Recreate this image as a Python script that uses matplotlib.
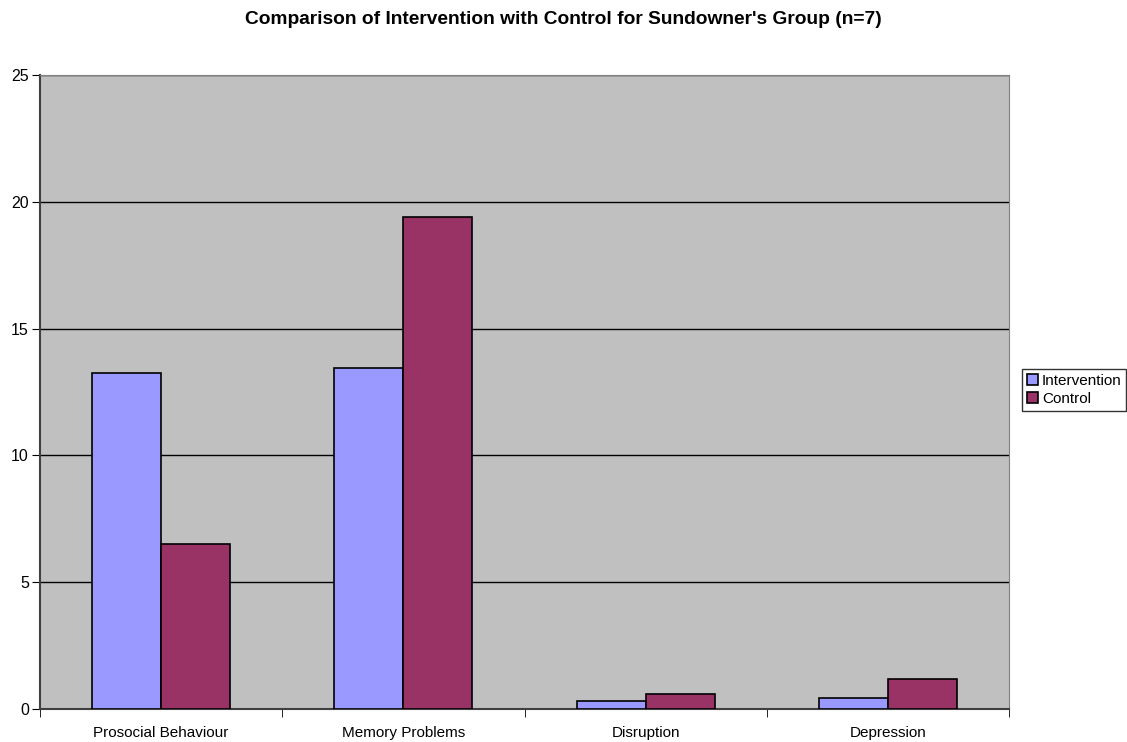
import numpy as np
import matplotlib.pyplot as plt
from matplotlib.ticker import FixedLocator, NullFormatter

plt.rcParams['font.family'] = ['Liberation Sans', 'DejaVu Sans']

categories = ['Prosocial Behaviour', 'Memory Problems', 'Disruption', 'Depression']
intervention = [13.25, 13.45, 0.3, 0.45]
control = [6.5, 19.4, 0.6, 1.2]

fig = plt.figure(figsize=(11.27, 7.42), dpi=100)
ax = fig.add_axes([40 / 1127, 1 - 709 / 742, 969 / 1127, 634 / 742])
ax.set_facecolor('#C0C0C0')

x = np.arange(len(categories))
w = 0.285
ax.bar(x - w / 2, intervention, w, color='#9999FF', edgecolor='black', linewidth=1.2,
       label='Intervention', zorder=3)
ax.bar(x + w / 2, control, w, color='#993366', edgecolor='black', linewidth=1.2,
       label='Control', zorder=3)

ax.set_xlim(-0.5, len(categories) - 0.5)
ax.set_ylim(0, 25)
ax.set_yticks([0, 5, 10, 15, 20, 25])
ax.yaxis.grid(True, color='black', linewidth=1, zorder=1)
ax.tick_params(axis='y', direction='out', length=6, pad=2, labelsize=11.5, colors='black')

ax.set_xticks(x)
ax.set_xticklabels(categories, fontsize=11)
ax.tick_params(axis='x', which='major', length=0, pad=12)
ax.xaxis.set_minor_locator(FixedLocator(np.arange(-0.5, len(categories), 1)))
ax.xaxis.set_minor_formatter(NullFormatter())
ax.tick_params(axis='x', which='minor', direction='out', length=6)

for side in ['top', 'right']:
    ax.spines[side].set_color('#808080')
for side in ['left', 'bottom']:
    ax.spines[side].set_color('#404040')
    ax.spines[side].set_linewidth(1.5)

fig.suptitle("Comparison of Intervention with Control for Sundowner's Group (n=7)",
             fontsize=13.8, fontweight='bold', y=1 - 20 / 742, va='center')

leg = fig.legend(loc='upper left', bbox_to_anchor=(1022 / 1127, 1 - 369 / 742),
                 fontsize=11, frameon=True, fancybox=False, edgecolor='black',
                 handlelength=0.75, handleheight=0.75, handletextpad=0.25,
                 borderpad=0.3, labelspacing=0.3, borderaxespad=0)
leg.get_frame().set_linewidth(1)

fig.savefig('out.png', dpi=100)
